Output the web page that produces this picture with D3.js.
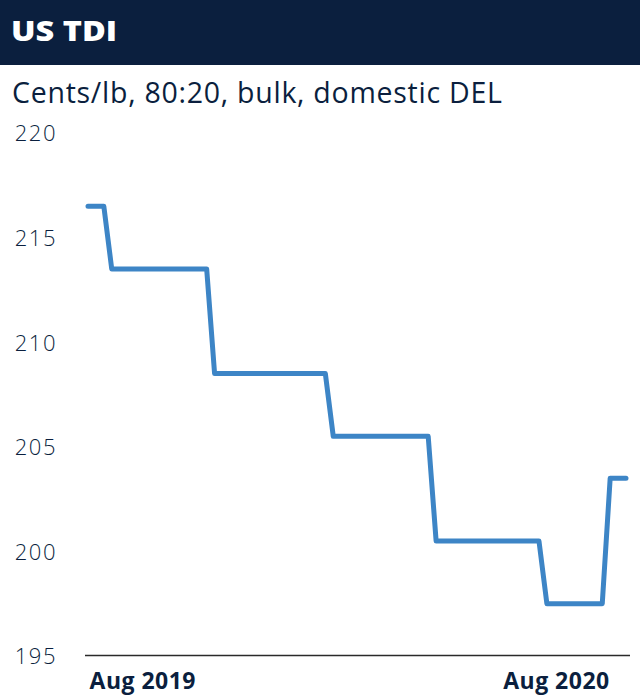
<!DOCTYPE html>
<html><head><meta charset="utf-8">
<script src="https://cdn.jsdelivr.net/npm/d3@7"></script>
<style>html,body{margin:0;padding:0;background:#fff;}svg{display:block;}</style>
</head><body>
<svg id="chart" width="640" height="697"></svg>
<script>
const title = "US TDI";
const subtitle = "Cents/lb, 80:20, bulk, domestic DEL";
const dates = ["2019-06-14","2019-06-28","2019-07-05","2019-09-27","2019-10-04","2020-01-10","2020-01-17","2020-04-10","2020-04-17","2020-07-17","2020-07-24","2020-09-11","2020-09-18","2020-10-02"];
const values = [216.5,216.5,213.5,213.5,208.5,208.5,205.5,205.5,200.5,200.5,197.5,197.5,203.5,203.5];
const yTicks = [195,200,205,210,215,220];
const xTickDates = ["2019-08-01","2020-08-01"];
const xTickLabels = ["Aug 2019","Aug 2020"];

const parse = d3.timeParse("%Y-%m-%d");
const data = dates.map((d,i)=>({date:parse(d), value:values[i]}));
const svg = d3.select("#chart");
const navy = "#0b1f3e";
const FONT = "'Open Sans', Roboto, sans-serif";

function fit(sel, w){
  sel.each(function(){
    const n = this.textContent.length;
    const len = this.getComputedTextLength();
    if (n > 1) d3.select(this).attr("letter-spacing", ((w - len)/(n-1)).toFixed(2));
  });
}

svg.append("rect").attr("x",0).attr("y",0).attr("width",640).attr("height",65).attr("fill",navy);
svg.append("text").attr("x",11).attr("y",41).text(title)
  .attr("fill","#fff").attr("font-family",FONT).attr("font-weight",800).attr("font-size",28.5)
  .attr("textLength",106).attr("lengthAdjust","spacingAndGlyphs");
const st = svg.append("text").attr("x",12).attr("y",103).text(subtitle)
  .attr("fill",navy).attr("font-family",FONT).attr("font-weight",400).attr("font-size",28.5);
fit(st,490);

const x = d3.scaleTime().domain([data[0].date, data[data.length-1].date]).range([88,626]);
const y = d3.scaleLinear().domain([195,220]).range([656,133]);

const yAxis = svg.append("g").attr("transform","translate(57,0)")
  .call(d3.axisLeft(y).tickValues(yTicks).tickSize(0).tickPadding(0).tickFormat(d3.format("d")));
yAxis.select(".domain").remove();
yAxis.selectAll("text").attr("font-family",FONT).attr("font-weight",300).attr("font-size",22).attr("fill",navy).attr("dy","0.36em").attr("letter-spacing","1.5");

const xAxis = svg.append("g").attr("transform","translate(0,656)")
  .call(d3.axisBottom(x).tickValues(xTickDates.map(parse)).tickSize(0).tickPadding(17).tickFormat((d,i)=>xTickLabels[i]));
xAxis.select(".domain").remove();
xAxis.selectAll("text").attr("font-family",FONT).attr("font-weight",700).attr("font-size",23).attr("fill",navy).attr("dy","0.71em");
fit(xAxis.selectAll("text"),106);

svg.append("line").attr("x1",85).attr("x2",630).attr("y1",655.5).attr("y2",655.5).attr("stroke","#2a2a2a").attr("stroke-width",1.5);

svg.append("path").datum(data)
  .attr("d", d3.line().x(d=>x(d.date)).y(d=>y(d.value)))
  .attr("fill","none").attr("stroke","#3d85c6").attr("stroke-width",5).attr("stroke-linejoin","round").attr("stroke-linecap","round");
</script>
</body></html>
